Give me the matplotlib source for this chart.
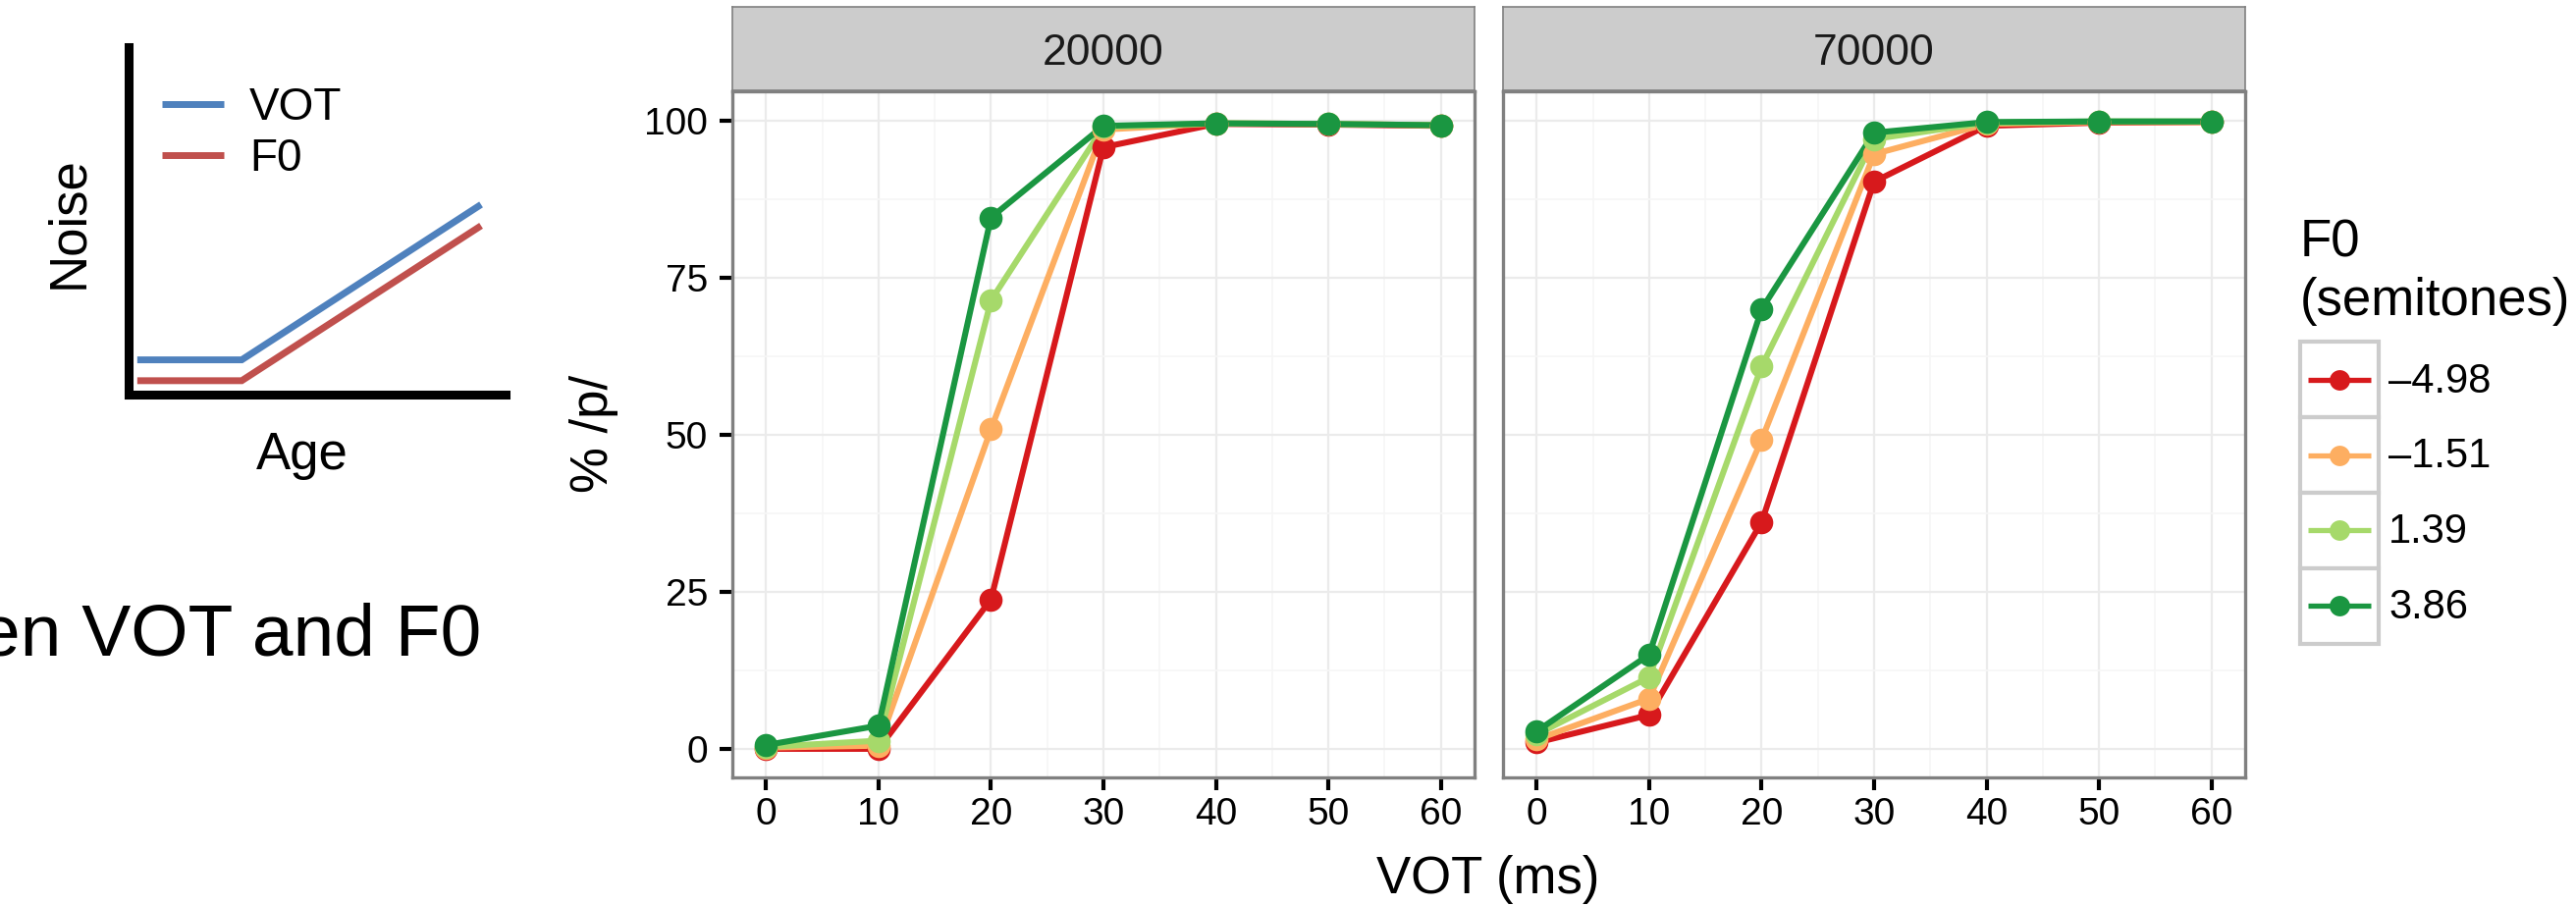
import matplotlib
matplotlib.use('Agg')
import matplotlib.pyplot as plt
from matplotlib.legend_handler import HandlerBase
from matplotlib.patches import Rectangle
from matplotlib.lines import Line2D
from matplotlib.ticker import MultipleLocator

plt.rcParams['font.family'] = ['Liberation Sans', 'DejaVu Sans']

# ---------------- data ----------------
vot_ms = [0, 10, 20, 30, 40, 50, 60]
facet_labels = ['20000', '70000']
f0_labels = ['\u20134.98', '\u20131.51', '1.39', '3.86']
f0_colors = ['#D7191C', '#FDAE61', '#A6D96A', '#1A9641']

# facet 20000
p20000_m498 = [0.0, 0.0, 23.8, 95.8, 99.5, 99.4, 99.2]
p20000_m151 = [0.2, 0.5, 50.9, 98.6, 99.6, 99.5, 99.3]
p20000_p139 = [0.3, 1.3, 71.4, 99.0, 99.6, 99.5, 99.3]
p20000_p386 = [0.6, 3.7, 84.6, 99.2, 99.6, 99.5, 99.3]
# facet 70000
p70000_m498 = [1.0, 5.4, 36.1, 90.3, 99.2, 99.7, 99.8]
p70000_m151 = [1.5, 8.0, 49.2, 94.7, 99.5, 99.8, 99.8]
p70000_p139 = [2.3, 11.4, 60.9, 97.1, 99.7, 99.9, 99.9]
p70000_p386 = [2.8, 15.0, 70.0, 98.1, 99.8, 99.9, 99.9]

y_ticks = [0, 25, 50, 75, 100]

# schematic (noise vs age)
schem_age = [0.023, 0.30, 0.935]
schem_noise_vot = [0.10, 0.10, 0.547]
schem_noise_f0 = [0.04, 0.04, 0.486]
schem_labels = ['VOT', 'F0']
schem_colors = ['#4F81BD', '#C0504D']

facet_series = [
    [p20000_m498, p20000_m151, p20000_p139, p20000_p386],
    [p70000_m498, p70000_m151, p70000_p139, p70000_p386],
]

# ---------------- layout ----------------
W, H = 2624, 923
fig = plt.figure(figsize=(W / 100, H / 100), dpi=100)


def fr(x0, y_top, x1, y_bot):
    return [x0 / W, 1 - y_bot / H, (x1 - x0) / W, (y_bot - y_top) / H]


panel_x = [(746, 1502), (1531, 2287)]
panel_top, panel_bot = 93, 792
strip_top, strip_bot = 7, 92

LW = 4.4
MS = 17
grey50 = '#808080'

for i, (x0, x1) in enumerate(panel_x):
    ax = fig.add_axes(fr(x0, panel_top, x1, panel_bot))
    ax.set_xlim(-3, 63)
    ax.set_ylim(-4.55, 104.7)
    ax.set_xticks(vot_ms)
    ax.set_yticks(y_ticks)
    ax.xaxis.set_minor_locator(MultipleLocator(5))
    ax.yaxis.set_minor_locator(MultipleLocator(12.5))
    ax.grid(which='major', color='#EBEBEB', lw=1.6, zorder=0)
    ax.grid(which='minor', color='#F6F6F6', lw=1.2, zorder=0)
    ax.set_axisbelow(True)
    for s in ax.spines.values():
        s.set_color(grey50)
        s.set_linewidth(2.4)
        s.set_zorder(5)
    ax.tick_params(which='minor', length=0)
    ax.tick_params(axis='x', which='major', length=9.5, width=3, color='black',
                   labelsize=28, pad=5, labelcolor='black')
    if i == 0:
        ax.tick_params(axis='y', which='major', length=9.5, width=3, color='black',
                       labelsize=28, pad=8.5, labelcolor='black')
    else:
        ax.tick_params(axis='y', which='major', length=0, labelleft=False)
    series = facet_series[i]
    for vals, col in zip(series, f0_colors):
        ax.plot(vot_ms, vals, color=col, lw=LW, zorder=2, solid_capstyle='round')
    for vals, col in zip(series, f0_colors):
        ax.plot(vot_ms, vals, linestyle='none', marker='o', ms=MS, color=col,
                markeredgewidth=0, zorder=3)

    sax = fig.add_axes(fr(x0, strip_top, x1, strip_bot))
    sax.set_facecolor('#CCCCCC')
    sax.set_xticks([])
    sax.set_yticks([])
    for s in sax.spines.values():
        s.set_color(grey50)
        s.set_linewidth(1.2)
    sax.text(0.5, (strip_bot - 65.7) / (strip_bot - strip_top), facet_labels[i],
             ha='center', va='baseline', fontsize=32, color='#1A1A1A',
             transform=sax.transAxes)

# axis titles
fig.text(605 / W, 1 - 441.5 / H, '% /p/', rotation=90, ha='center', va='center', fontsize=38)
fig.text(1515.5 / W, 1 - 910 / H, 'VOT (ms)', ha='center', va='baseline', fontsize=38)


# legend with boxed keys
class BoxKeyHandler(HandlerBase):
    def create_artists(self, legend, orig_handle, xdescent, ydescent, width, height,
                       fontsize, trans):
        x0, y0 = -xdescent, -ydescent
        rect = Rectangle((x0, y0), width, height, facecolor='white', edgecolor='#CCCCCC',
                         linewidth=3, transform=trans)
        yc = y0 + height / 2
        inset = width * 0.1
        ln = Line2D([x0 + inset, x0 + width - inset], [yc, yc], color=orig_handle.get_color(),
                    lw=3.8, solid_capstyle='butt', transform=trans)
        pt = Line2D([x0 + width / 2], [yc], marker='o', ms=15, markeredgewidth=0,
                    color=orig_handle.get_color(), linestyle='none', transform=trans)
        return [rect, ln, pt]


handles = [Line2D([], [], color=c) for c in f0_colors]
leg = fig.legend(handles, f0_labels, loc='upper left',
                 bbox_to_anchor=(2343 / W, 1 - 222 / H), bbox_transform=fig.transFigure,
                 frameon=False, borderpad=0, borderaxespad=0, fontsize=30,
                 handlelength=1.92, handleheight=2.46, labelspacing=0, handletextpad=0.24,
                 title='F0\n(semitones)', title_fontsize=38, alignment='left',
                 handler_map={Line2D: BoxKeyHandler()})
leg.get_title().set_linespacing(1.25)
try:
    leg._legend_box.sep = 12
except Exception:
    pass

# ---------------- schematic ----------------
sx = fig.add_axes(fr(131, 48, 515, 402))
sx.set_xlim(0, 1)
sx.set_ylim(0, 1)
sx.set_xticks([])
sx.set_yticks([])
sx.spines['top'].set_visible(False)
sx.spines['right'].set_visible(False)
for k in ['left', 'bottom']:
    sx.spines[k].set_linewidth(6.5)
    sx.spines[k].set_color('black')
    sx.spines[k].set_capstyle('projecting')
sx.patch.set_alpha(0)
sx.plot(schem_age, schem_noise_vot, color=schem_colors[0], lw=5, label=schem_labels[0],
        solid_capstyle='butt', solid_joinstyle='miter')
sx.plot(schem_age, schem_noise_f0, color=schem_colors[1], lw=5, label=schem_labels[1],
        solid_capstyle='butt', solid_joinstyle='miter')
sx.legend(loc='upper left', bbox_to_anchor=(165 / W, 1 - 88 / H), bbox_transform=fig.transFigure,
          frameon=False, borderpad=0, borderaxespad=0, fontsize=33,
          handlelength=1.37, handletextpad=0.57, labelspacing=0.17)

fig.text(70.5 / W, 1 - 227 / H, 'Noise', rotation=90, ha='center', va='center', fontsize=38)
fig.text(308 / W, 1 - 478 / H, 'Age', ha='center', va='baseline', fontsize=38)
fig.text(490 / W, 1 - 667 / H, 'en VOT and F0', ha='right', va='baseline', fontsize=54)

fig.savefig('out.png', dpi=100)
